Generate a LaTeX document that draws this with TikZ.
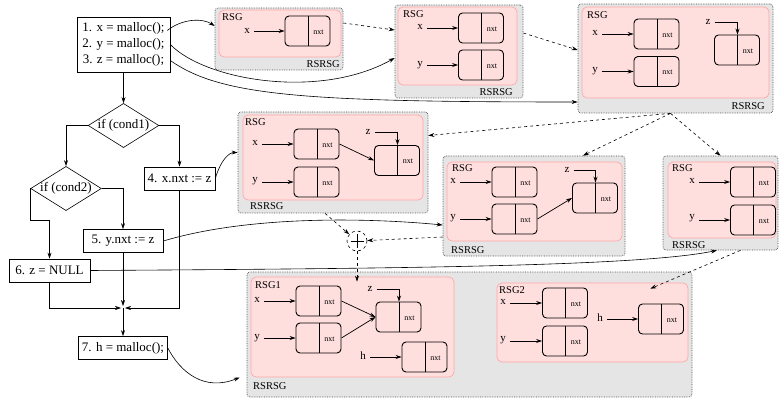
\documentclass[tikz,border=0pt]{standalone}
\usepackage{fontspec}
\setmainfont{Liberation Serif}
\usepackage{tikz}
\usetikzlibrary{arrows.meta, calc}
\usetikzlibrary{shapes.geometric}

\tikzset{
  flowbox/.style={draw, line width=0.6pt, inner sep=2pt, minimum height=23pt,
    font=\fontsize{13}{16}\selectfont},
  flowdiam/.style={draw, line width=0.6pt, diamond, aspect=1.6, inner sep=0pt,
    font=\fontsize{13}{16}\selectfont},
  rsrsg/.style={draw=black!70, densely dotted, line width=0.7pt, fill=gray!20,
    rounded corners=3pt, inner sep=0pt},
  rsg/.style={draw=red!35, line width=0.7pt, fill=red!13, rounded corners=5pt, inner sep=0pt},
  cellbox/.style={draw, line width=0.9pt, rounded corners=4pt, minimum width=45pt,
    minimum height=30pt, inner sep=0pt,
    path picture={\draw[line width=0.8pt] ([xshift=0.5pt]path picture bounding box.north)
      -- ([xshift=0.5pt]path picture bounding box.south);},
    label={[font=\fontsize{8}{8}\selectfont, xshift=11pt, yshift=-1pt]center:nxt}},
  boxlbl/.style={font=\fontsize{10.5}{12}\selectfont, inner sep=0pt},
  varlbl/.style={font=\fontsize{11}{12}\selectfont, inner sep=4pt},
  ptr/.style={->, line width=0.7pt},
  flow/.style={->, line width=0.6pt},
  rsarrow/.style={->, dashed, line width=0.6pt},
}

\begin{document}
\begin{tikzpicture}[x=1pt, y=-1pt, >={Stealth[length=6pt, width=4pt]}]
\useasboundingbox (0,0) rectangle (779,398);

%------------------------------------------------
% Flowchart
%------------------------------------------------
\node[flowbox, align=center, minimum width=93pt, minimum height=55pt] (b1) at (123.5,44.5)
  {1. x = malloc();\\ 2. y = malloc();\\ 3. z = malloc();};
\node[flowdiam] (d1) at (123.5,125.5) {if (cond1)};
\node[flowdiam] (d2) at (66,188.5) {if (cond2)};
\node[flowbox, minimum width=71pt] (b4) at (179.5,178.5) {4. x.nxt := z};
\node[flowbox, minimum width=80pt] (b5) at (123,241) {5. y.nxt := z};
\node[flowbox, minimum width=81pt] (b6) at (49.5,270.5) {6. z = NULL};
\node[flowbox, minimum width=89pt] (b7) at (123,348) {7. h = malloc();};
\coordinate (jn) at (123,308);

\draw[flow] (b1.south) -- (d1.north);
\draw[flow] (d1.west) -| (d2.north);
\draw[flow] (d1.east) -| (b4.north);
\draw[flow] (d2.east) -| (b5.north);
\draw[flow] (d2.west) -- ++(0,32) -| (b6.north);
\draw[flow] (b6.south) |- ([xshift=-2pt]jn);
\draw[flow] (b5.south) -- ([yshift=2pt]jn);
\draw[flow] (b4.south) |- ([xshift=2pt]jn);
\draw[flow] (jn) -- (b7.north);

%------------------------------------------------
% RSRSG after 1.
%------------------------------------------------
\node[rsrsg, minimum width=128pt, minimum height=62pt] (r1) at (279,39) {};
\node[rsg, minimum width=122pt, minimum height=47pt] (g1) at (280,33.5) {};
\node[boxlbl, anchor=base west] (g1t) at (222,21) {RSG};
\node[boxlbl, anchor=base east] (r1t) at (340,67.5) {RSRSG};
\node[cellbox] (c11) at (307.5,31) {};
\node[varlbl] (x1) at (247,31) {x};
\draw[ptr] (x1.east |- c11.west) -- (c11.west);

%------------------------------------------------
% RSRSG after 2.
%------------------------------------------------
\node[rsrsg, minimum width=128pt, minimum height=93pt] (r2) at (459,51.5) {};
\node[rsg, minimum width=119pt, minimum height=78pt] (g2) at (457.5,46) {};
\node[boxlbl, anchor=base west] (g2t) at (403,18) {RSG};
\node[boxlbl, anchor=base east] (r2t) at (513,96) {RSRSG};
\node[cellbox] (c21) at (481,28) {};
\node[cellbox] (c22) at (481,65) {};
\node[varlbl] (x2) at (420,27) {x};
\node[varlbl] (y2) at (420,65) {y};
\draw[ptr] (x2.east |- c21.west) -- (c21.west);
\draw[ptr] (y2.east |- c22.west) -- (c22.west);

%------------------------------------------------
% RSRSG after 3.
%------------------------------------------------
\node[rsrsg, minimum width=195pt, minimum height=109pt] (r3) at (675.5,58.5) {};
\node[rsg, minimum width=187pt, minimum height=91pt] (g3) at (675.5,52.5) {};
\node[boxlbl, anchor=base west] (g3t) at (587,19) {RSG};
\node[boxlbl, anchor=base east] (r3t) at (765,110) {RSRSG};
\node[cellbox] (c31) at (656.5,34) {};
\node[cellbox] (c32) at (656.5,71.5) {};
\node[cellbox] (c33) at (737,50) {};
\node[varlbl] (x3) at (595,33) {x};
\node[varlbl] (y3) at (595,71) {y};
\node[varlbl] (z3) at (708,22) {z};
\draw[ptr] (x3.east |- c31.west) -- (c31.west);
\draw[ptr] (y3.east |- c32.west) -- (c32.west);
\draw[ptr] (z3.east) -| ([xshift=0.5pt]c33.north);

%------------------------------------------------
% RSRSG after 4.
%------------------------------------------------
\node[rsrsg, minimum width=190pt, minimum height=101pt] (r4) at (333,162.5) {};
\node[rsg, minimum width=180pt, minimum height=85pt] (g4) at (333,157.5) {};
\node[boxlbl, anchor=base west] (g4t) at (245,126) {RSG};
\node[boxlbl, anchor=base west] (r4t) at (250,210) {RSRSG};
\node[cellbox] (c41) at (316.5,144) {};
\node[cellbox] (c42) at (316.5,182) {};
\node[cellbox] (c43) at (397,160.5) {};
\node[varlbl] (x4) at (255,143) {x};
\node[varlbl] (y4) at (255,181) {y};
\node[varlbl] (z4) at (368,132) {z};
\draw[ptr] (x4.east |- c41.west) -- (c41.west);
\draw[ptr] (y4.east |- c42.west) -- (c42.west);
\draw[ptr] (z4.east) -| ([xshift=0.5pt]c43.north);
\draw[ptr] (c41.east) -- (c43.west);

%------------------------------------------------
% RSRSG after 5.
%------------------------------------------------
\node[rsrsg, minimum width=182pt, minimum height=100pt] (r5) at (534,206) {};
\node[rsg, minimum width=175pt, minimum height=79pt] (g5) at (534.5,201.5) {};
\node[boxlbl, anchor=base west] (g5t) at (452,172) {RSG};
\node[boxlbl, anchor=base west] (r5t) at (451,253) {RSRSG};
\node[cellbox] (c51) at (514.5,182) {};
\node[cellbox] (c52) at (514.5,219) {};
\node[cellbox] (c53) at (595,198) {};
\node[varlbl] (x5) at (453,181) {x};
\node[varlbl] (y5) at (453,218) {y};
\node[varlbl] (z5) at (567,170) {z};
\draw[ptr] (x5.east |- c51.west) -- (c51.west);
\draw[ptr] (y5.east |- c52.west) -- (c52.west);
\draw[ptr] (z5.east) -| ([xshift=0.5pt]c53.north);
\draw[ptr] (c52.east) -- (c53.west);

%------------------------------------------------
% RSRSG after 6.
%------------------------------------------------
\node[rsrsg, minimum width=115pt, minimum height=94pt] (r6) at (720.5,203) {};
\node[rsg, minimum width=108pt, minimum height=76pt] (g6) at (722,200) {};
\node[boxlbl, anchor=base west] (g6t) at (672,172) {RSG};
\node[boxlbl, anchor=base west] (r6t) at (672,248) {RSRSG};
\node[cellbox] (c61) at (753,182) {};
\node[cellbox] (c62) at (753,220) {};
\node[varlbl] (x6) at (692,181) {x};
\node[varlbl] (y6) at (692,218) {y};
\draw[ptr] (x6.east |- c61.west) -- (c61.west);
\draw[ptr] (y6.east |- c62.west) -- (c62.west);

%------------------------------------------------
% RSRSG after 7.
%------------------------------------------------
\node[rsrsg, minimum width=445pt, minimum height=125pt] (r7) at (469.5,334.5) {};
\node[boxlbl, anchor=base west] (r7t) at (253,389) {RSRSG};
% RSG1
\node[rsg, minimum width=203pt, minimum height=100pt] (g7) at (352.5,327) {};
\node[boxlbl, anchor=base west] (g7t) at (255,288) {RSG1};
\node[cellbox] (c71) at (318.5,301) {};
\node[cellbox] (c72) at (318.5,338) {};
\node[cellbox] (c73) at (398.5,317) {};
\node[cellbox] (c74) at (424.5,357) {};
\node[varlbl] (x7) at (257,300) {x};
\node[varlbl] (y7) at (257,338) {y};
\node[varlbl] (z7) at (370,289) {z};
\node[varlbl] (h7) at (363,356) {h};
\draw[ptr] (x7.east |- c71.west) -- (c71.west);
\draw[ptr] (y7.east |- c72.west) -- (c72.west);
\draw[ptr] (z7.east) -| ([xshift=0.5pt]c73.north);
\draw[ptr] (h7.east |- c74.west) -- (c74.west);
\draw[ptr] (c71.east) -- (c73.west);
\draw[ptr] (c72.east) -- (c73.west);
% RSG2
\node[rsg, minimum width=191pt, minimum height=79pt] (g8) at (592.5,322.5) {};
\node[boxlbl, anchor=base west] (g8t) at (499,293) {RSG2};
\node[cellbox] (c81) at (565,303) {};
\node[cellbox] (c82) at (565,341) {};
\node[cellbox] (c83) at (661,319) {};
\node[varlbl] (x8) at (503,302) {x};
\node[varlbl] (y8) at (503,340) {y};
\node[varlbl] (h8) at (600,318) {h};
\draw[ptr] (x8.east |- c81.west) -- (c81.west);
\draw[ptr] (y8.east |- c82.west) -- (c82.west);
\draw[ptr] (h8.east |- c83.west) -- (c83.west);

%------------------------------------------------
% Join of the two branches
%------------------------------------------------
\node[draw, dashed, circle, minimum size=20pt, inner sep=0pt, line width=0.6pt] (join) at (357,241) {};
\draw[line width=0.6pt] ([xshift=-6.5pt]join.center) -- ([xshift=6.5pt]join.center);
\draw[line width=0.6pt] ([yshift=-6.5pt]join.center) -- ([yshift=6.5pt]join.center);

% statements -> RSRSG
\draw[flow] ([xshift=-3pt,yshift=14pt]b1.east) .. controls +(15,-12) and +(-12,-8) .. ([yshift=13pt]r1.west);
\draw[flow] (b1.east) .. controls +(35,36) and +(-75,42) .. ([yshift=-6.5pt]r2.west);
\draw[flow] ([yshift=-16pt]b1.east) .. controls +(50,35) and +(-277,0) .. ([yshift=-43.5pt]r3.west);
\draw[flow] (b4.east) .. controls +(6,-20) and +(-8,0) .. ([yshift=10pt]r4.west);
\draw[flow] (b5.east) .. controls +(87,-26) and +(-73,-7) .. ([yshift=-19pt]r5.west);
\draw[flow] (b6.east) .. controls +(310,-2) and +(-77,16) .. ([xshift=-3.5pt]r6.south);
\draw[flow] (b7.east) .. controls +(13,25) and +(-35,14) .. ([xshift=-7pt,yshift=-43pt]r7.west);

% RSRSG -> RSRSG
\coordinate (r3b) at ([xshift=-5pt]r3.south);
\draw[rsarrow] ([yshift=16pt]r1.east) -- ([yshift=21.5pt]r2.west);
\draw[rsarrow] ([yshift=18.5pt]r2.east) -- ([yshift=8.5pt]r3.west);
\draw[rsarrow] (r3b) -- ([yshift=27pt]r4.east);
\draw[rsarrow] (r3b) -- ([xshift=49pt]r5.north);
\draw[rsarrow] (r3b) -- (r6.north);
\draw[rsarrow] ([xshift=-8pt]r4.south) -- (join);
\draw[rsarrow] ([yshift=-31pt]r5.west) -- (join);
\draw[rsarrow] (join) -- ($(join |- g7.north)+(0,5)$);
\draw[rsarrow] ([xshift=20pt]r6.south) -- ([xshift=-38pt,yshift=-6pt]g8.north east);
\end{tikzpicture}
\end{document}
